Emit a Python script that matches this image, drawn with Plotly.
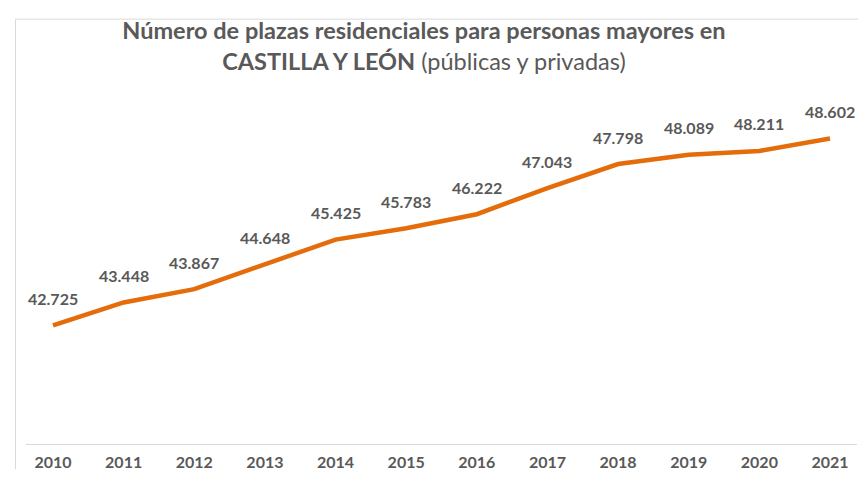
import plotly.graph_objects as go

# ── Data ──────────────────────────────────────────────────────────────────────
years = ["2010", "2011", "2012", "2013", "2014", "2015",
         "2016", "2017", "2018", "2019", "2020", "2021"]
plazas = [42725, 43448, 43867, 44648, 45425, 45783,
          46222, 47043, 47798, 48089, 48211, 48602]

ORANGE = "#E46C0A"
GREY = "#595959"
BORDER = "#D9D9D9"
FONT = "Lato, 'Open Sans', sans-serif"


def _fmt(v):
    return f"{v:,}".replace(",", ".")


fig = go.Figure()

fig.add_trace(go.Scatter(
    x=years, y=plazas, mode="lines",
    line=dict(color=ORANGE, width=4.5),
    hoverinfo="skip", showlegend=False,
))

# data labels above each point (category index, so "2010" is not read as a number)
for i, v in enumerate(plazas):
    fig.add_annotation(
        x=i, y=v, text=f"<b>{_fmt(v)}</b>", showarrow=False,
        yshift=27, font=dict(size=16, color=GREY, family=FONT),
    )

# chart frame: only left and top edges are visible in the crop
fig.add_shape(type="line", xref="paper", yref="paper",
              x0=-0.0126, x1=-0.0126, y0=-0.072, y1=1.2139,
              line=dict(color=BORDER, width=1))
fig.add_shape(type="line", xref="paper", yref="paper",
              x0=-0.0126, x1=1.011, y0=1.2139, y1=1.2139,
              line=dict(color=BORDER, width=1))

fig.update_layout(
    width=858, height=472,
    title=dict(
        text="<b>Número de plazas residenciales para personas mayores en</b><br>"
             "<b>CASTILLA Y LEÓN</b> (públicas y privadas)",
        x=0.4848, xanchor="center", y=0.934, yanchor="top",
        font=dict(size=23.5, color=GREY, family=FONT),
    ),
    margin=dict(l=17.5, r=9.1, t=86, b=26),
    paper_bgcolor="white", plot_bgcolor="white",
    font=dict(family=FONT, color=GREY),
)
fig.update_xaxes(
    type="category", showgrid=False, zeroline=False,
    showline=True, linecolor=BORDER, linewidth=1,
    ticks="", ticklabelstandoff=4,
    tickfont=dict(size=16, color=GREY, family=FONT),
    tickprefix="<b>", ticksuffix="</b>",
)
fig.update_yaxes(
    range=[39000, 50000], visible=False, showgrid=False, zeroline=False,
)

fig.write_html("out.html")
